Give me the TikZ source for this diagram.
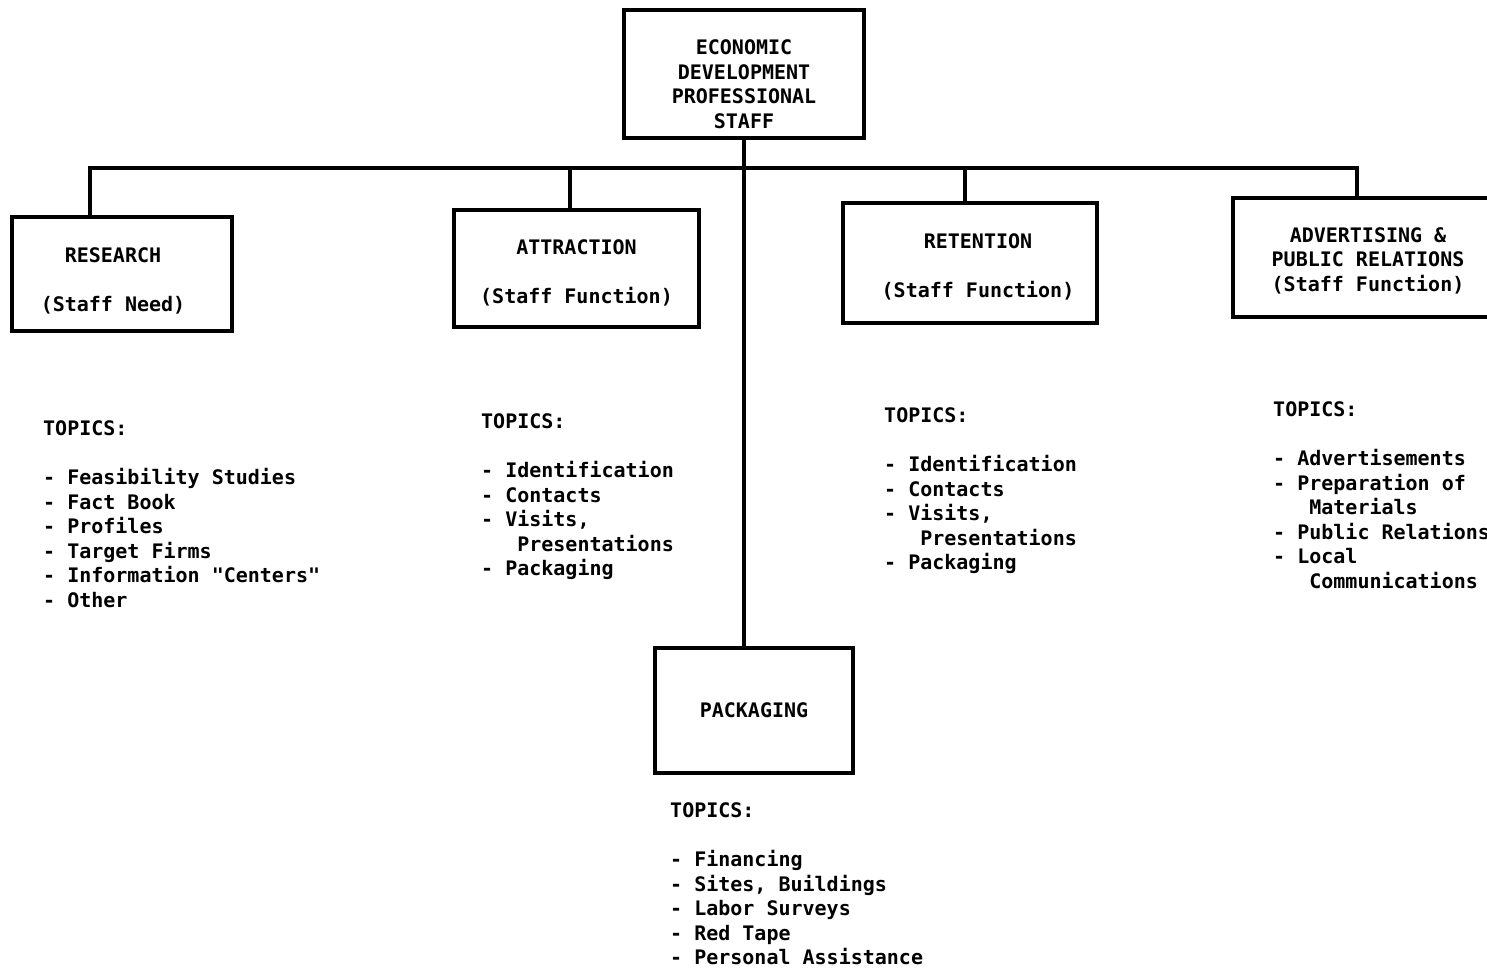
\documentclass[tikz,border=0pt]{standalone}
\usepackage{fontspec}
\setmonofont{DejaVu Sans Mono}
\begin{document}
\begin{tikzpicture}[x=1pt,y=-1pt]
    \tikzstyle{box}=[draw,line width=3.5pt,inner sep=0pt,align=center,font=\fontsize{20}{24.5}\selectfont\ttfamily\bfseries]
    \tikzstyle{topics}=[anchor=north west,inner sep=0pt,align=left,font=\fontsize{20}{24.5}\selectfont\ttfamily\bfseries]
    \tikzstyle{wire}=[line width=3.5pt]
    \useasboundingbox (0,0) rectangle (1487,968);
    % boxes
    \node[box,minimum width=240pt,minimum height=128pt] (eco) at (744,74)
      {\rule{0pt}{35pt}ECONOMIC\\DEVELOPMENT\\PROFESSIONAL\\STAFF};
    \node[box,minimum width=220pt,minimum height=114pt] (res) at (122,274)
      {\rule{0pt}{29.4pt}RESEARCH\hspace*{18pt}\\[24.5pt](Staff Need)\hspace*{18pt}};
    \node[box,minimum width=245pt,minimum height=117pt] (att) at (576.5,268.5)
      {\rule{0pt}{24.4pt}ATTRACTION\\[24.5pt](Staff Function)};
    \node[box,minimum width=254pt,minimum height=120pt] (ret) at (970,263)
      {\rule{0pt}{23.4pt}\hspace*{16pt}RETENTION\\[24.5pt]\hspace*{16pt}(Staff Function)};
    \node[box,minimum width=270pt,minimum height=119pt] (adv) at (1368,257.5)
      {\rule{0pt}{20.8pt}ADVERTISING \&\\PUBLIC RELATIONS\\(Staff Function)};
    \node[box,minimum width=198pt,minimum height=125pt] (pack) at (754,710.5) {PACKAGING};
    % topics
    \node[topics] (res-topics) at (43,420.7) {TOPICS:\\[24.5pt]- Feasibility Studies\\- Fact Book\\- Profiles\\- Target Firms\\- Information "Centers"\\- Other};
    \node[topics] (att-topics) at (481,413.7) {TOPICS:\\[24.5pt]- Identification\\- Contacts\\- Visits,\\\phantom{xxx}Presentations\\- Packaging};
    \node[topics] (ret-topics) at (884,407.7) {TOPICS:\\[24.5pt]- Identification\\- Contacts\\- Visits,\\\phantom{xxx}Presentations\\- Packaging};
    \node[topics] (adv-topics) at (1273,401.7) {TOPICS:\\[24.5pt]- Advertisements\\- Preparation of\\\phantom{xxx}Materials\\- Public Relations\\- Local\\\phantom{xxx}Communications};
    \node[topics] (pack-topics) at (670,802.7) {TOPICS:\\[24.5pt]- Financing\\- Sites, Buildings\\- Labor Surveys\\- Red Tape\\- Personal Assistance};
    % connectors
    \coordinate (bus-res) at (90,168);
    \coordinate (bus-att) at (570,168);
    \coordinate (bus-ret) at (965,168);
    \coordinate (bus-adv) at (1357,168);
    \draw[wire] (bus-res |- res.north) -- (bus-res) -- (bus-adv) -- (bus-adv |- adv.north);
    \draw[wire] (bus-att) -- (bus-att |- att.north);
    \draw[wire] (bus-ret) -- (bus-ret |- ret.north);
    \draw[wire] (eco.south) -- (eco.south |- pack.north);
\end{tikzpicture}
\end{document}
